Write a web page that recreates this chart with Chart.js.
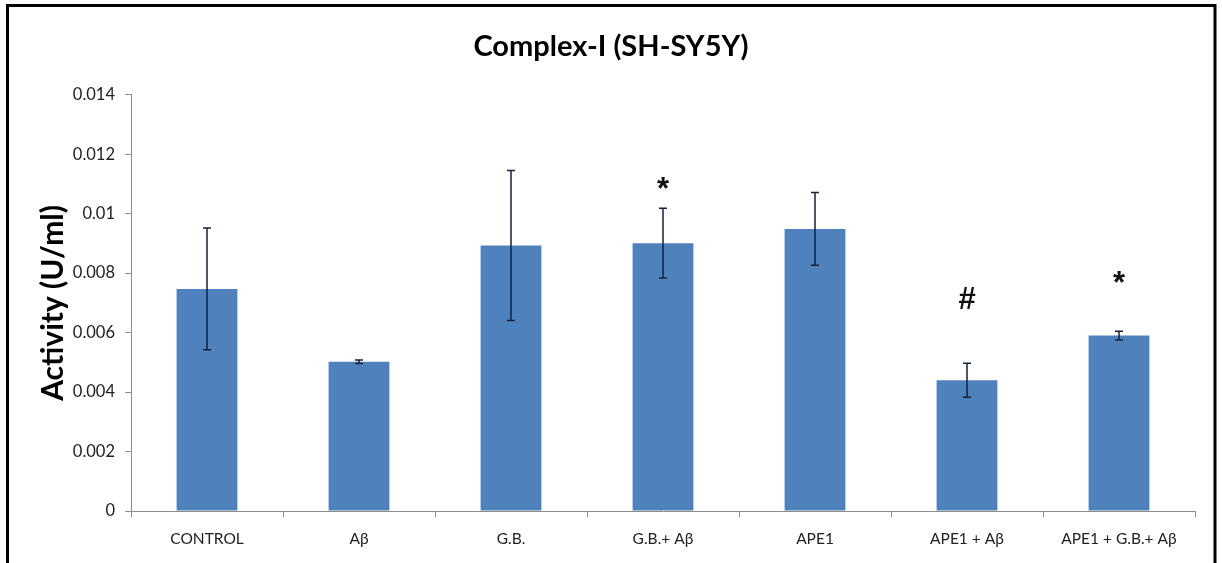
<!DOCTYPE html>
<html>
<head>
<meta charset="utf-8">
<script src="https://cdn.jsdelivr.net/npm/chart.js@4/dist/chart.umd.min.js"></script>
<style>
  html, body { margin: 0; padding: 0; background: #fff; }
  #wrap { width: 1222px; height: 563px; }
</style>
</head>
<body>
<div id="wrap"><canvas id="c" width="1222" height="563"></canvas></div>
<script>
// Complex-I activity in SH-SY5Y cells, mean ± SD per treatment group
const categories = ['CONTROL', 'Aβ', 'G.B.', 'G.B.+ Aβ', 'APE1', 'APE1 + Aβ', 'APE1 + G.B.+ Aβ'];
const activity   = [0.00747, 0.00502, 0.00893, 0.00901, 0.00949, 0.00440, 0.00590];
const errors     = [0.00205, 0.00006, 0.00252, 0.00117, 0.00122, 0.00057, 0.00015];
// significance marks and the activity level they sit at
const marks      = ['', '', '', '*', '', '#', '*'];
const markLevels = [null, null, null, 0.01104, null, 0.00717, 0.00788];
const yTicks     = [0, 0.002, 0.004, 0.006, 0.008, 0.01, 0.012, 0.014];

const FONT = 'Lato, "Noto Sans", "DejaVu Sans", sans-serif';

const errorBars = {
  id: 'errorBars',
  afterDatasetsDraw(chart) {
    const { ctx, scales: { x, y } } = chart;
    ctx.save();
    ctx.strokeStyle = '#16213a';
    ctx.lineWidth = 1.5;
    activity.forEach((v, i) => {
      const cx = x.getPixelForValue(i);
      const top = y.getPixelForValue(v + errors[i]);
      const bot = y.getPixelForValue(v - errors[i]);
      ctx.beginPath();
      ctx.moveTo(cx, top); ctx.lineTo(cx, bot);
      ctx.moveTo(cx - 4, top); ctx.lineTo(cx + 4, top);
      ctx.moveTo(cx - 4, bot); ctx.lineTo(cx + 4, bot);
      ctx.stroke();
    });
    // significance symbols
    ctx.fillStyle = '#111';
    ctx.font = 'bold 31px "Liberation Sans", Arial, sans-serif';
    ctx.textAlign = 'center';
    ctx.textBaseline = 'alphabetic';
    marks.forEach((m, i) => {
      if (!m) return;
      const cx = x.getPixelForValue(i);
      const cy = y.getPixelForValue(markLevels[i]);
      const mt = ctx.measureText(m);
      const base = cy + (mt.actualBoundingBoxAscent - mt.actualBoundingBoxDescent) / 2;
      ctx.fillText(m, cx, base);
    });
    ctx.restore();
  }
};

const frame = {
  id: 'frame',
  afterDraw(chart) {
    const ctx = chart.ctx;
    ctx.save();
    ctx.strokeStyle = '#000';
    ctx.lineWidth = 3;
    ctx.strokeRect(7.5, 5.5, 1207.5, 620);
    ctx.restore();
  }
};

new Chart(document.getElementById('c'), {
  type: 'bar',
  data: {
    labels: categories,
    datasets: [{
      data: activity,
      backgroundColor: '#4f81bd',
      borderWidth: 0,
      barPercentage: 0.4,
      categoryPercentage: 1.0
    }]
  },
  options: {
    responsive: false,
    animation: false,
    layout: { padding: { left: 13.5, right: 13.5, top: 0, bottom: 0 } },
    plugins: {
      legend: { display: false },
      tooltip: { enabled: false },
      title: {
        display: true,
        text: 'Complex-I (SH-SY5Y)',
        color: '#000',
        font: { family: FONT, size: 29, weight: 'bold' },
        padding: { top: 29, bottom: 31 }
      }
    },
    scales: {
      x: {
        offset: true,
        grid: { display: true, drawOnChartArea: false, drawTicks: true, tickLength: 6, color: '#8c8c8c', offset: true },
        border: { display: true, color: '#8c8c8c', width: 1 },
        ticks: { color: '#222', font: { family: FONT, size: 15.5 }, padding: 13, maxRotation: 0, autoSkip: false },
        afterFit(s) { s.height = 52; }
      },
      y: {
        min: 0, max: 0.014,
        afterBuildTicks(s) { s.ticks = yTicks.map(v => ({ value: v })); },
        grid: { display: true, drawOnChartArea: false, drawTicks: true, tickLength: 6, color: '#8c8c8c' },
        border: { display: true, color: '#8c8c8c', width: 1 },
        ticks: {
          color: '#222', font: { family: FONT, size: 16.5 }, padding: 10,
          callback: v => String(Number(v.toFixed(3)))
        },
        title: {
          display: true,
          text: 'Activity (U/ml)',
          color: '#000',
          font: { family: FONT, size: 30, weight: 'bold' },
          padding: { top: 21.5, bottom: 0 }
        },
        afterFit(s) { s.width = 117.5; }
      },
      // empty right-hand margin column so the title stays centred on the page
      margin: {
        type: 'linear',
        position: 'right',
        display: true,
        grid: { display: false, drawTicks: false },
        border: { display: false },
        ticks: { display: false },
        afterFit(s) { s.width = 13.5; }
      }
    }
  },
  plugins: [errorBars, frame]
});
</script>
</body>
</html>
